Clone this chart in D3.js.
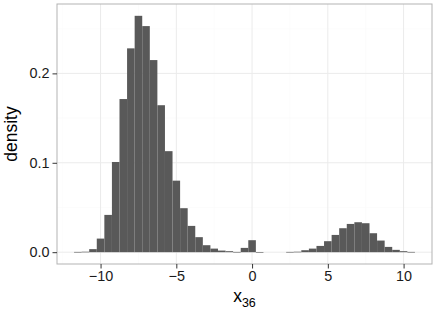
<!DOCTYPE html>
<html>
<head>
<meta charset="utf-8">
<script src="https://cdn.jsdelivr.net/npm/d3@7"></script>
<style>
  body { margin: 0; background: #fff; }
  svg text { font-family: "Liberation Sans", Arial, sans-serif; }
</style>
</head>
<body>
<div id="chart"></div>
<script>
// histogram bins (centre of each 0.5 wide bin) and densities
var binCenters = [-11.5, -11, -10.5, -10, -9.5, -9, -8.5, -8, -7.5, -7, -6.5, -6, -5.5, -5, -4.5, -4, -3.5, -3, -2.5, -2, -1.5, -1, -0.5, 0, 0.5,
  2.5, 3, 3.5, 4, 4.5, 5, 5.5, 6, 6.5, 7, 7.5, 8, 8.5, 9, 9.5, 10, 10.5];
var density = [0.0003, 0.0005, 0.0034, 0.0152, 0.0417, 0.1009, 0.1713, 0.228, 0.2644, 0.2529, 0.2149, 0.1644, 0.113, 0.080, 0.0492, 0.0294, 0.0168, 0.0078, 0.0040, 0.0018, 0.0011, 0.0003, 0.0048, 0.0134, 0.0002,
  0.0003, 0.0005, 0.0022, 0.0040, 0.0070, 0.0123, 0.0193, 0.0268, 0.0316, 0.0335, 0.0324, 0.0212, 0.0130, 0.0059, 0.0026, 0.0011, 0.0003];
var binWidth = 0.5;
var xTicks = [-10, -5, 0, 5, 10];
var xMinor = [-12.5, -7.5, -2.5, 2.5, 7.5];
var yTicks = [0, 0.1, 0.2];
var yMinor = [0.05, 0.15, 0.25];

var W = 436, H = 311;
var margin = { top: 4, right: 4, bottom: 47, left: 57 };
var width = W - margin.left - margin.right;
var height = H - margin.top - margin.bottom;

var svg = d3.select("#chart").append("svg")
  .attr("width", W)
  .attr("height", H);

var g = svg.append("g")
  .attr("transform", "translate(" + margin.left + "," + margin.top + ")");

// ggplot style 5% expansion
var xLo = -11.75, xHi = 10.75;
var xPad = (xHi - xLo) * 0.05;
var x = d3.scaleLinear().domain([xLo - xPad, xHi + xPad]).range([0, width]);
var yMax = d3.max(density);
var y = d3.scaleLinear().domain([-yMax * 0.05, yMax * 1.05]).range([height, 0]);

// grid
g.selectAll(".xminor").data(xMinor).enter().append("line")
  .attr("x1", function (d) { return x(d); }).attr("x2", function (d) { return x(d); })
  .attr("y1", 0).attr("y2", height)
  .attr("stroke", "#fafafa").attr("stroke-width", 0.6);
g.selectAll(".yminor").data(yMinor).enter().append("line")
  .attr("y1", function (d) { return y(d); }).attr("y2", function (d) { return y(d); })
  .attr("x1", 0).attr("x2", width)
  .attr("stroke", "#fafafa").attr("stroke-width", 0.6);
g.selectAll(".xmajor").data(xTicks).enter().append("line")
  .attr("x1", function (d) { return x(d); }).attr("x2", function (d) { return x(d); })
  .attr("y1", 0).attr("y2", height)
  .attr("stroke", "#ebebeb").attr("stroke-width", 1);
g.selectAll(".ymajor").data(yTicks).enter().append("line")
  .attr("y1", function (d) { return y(d); }).attr("y2", function (d) { return y(d); })
  .attr("x1", 0).attr("x2", width)
  .attr("stroke", "#ebebeb").attr("stroke-width", 1);

// bars
g.selectAll(".bar").data(binCenters).enter().append("rect")
  .attr("x", function (d) { return x(d - binWidth / 2); })
  .attr("width", function (d) { return x(d + binWidth / 2) - x(d - binWidth / 2); })
  .attr("y", function (d, i) { return y(density[i]); })
  .attr("height", function (d, i) { return Math.max(0.6, y(0) - y(density[i])); })
  .attr("fill", "#595959");

// panel border
g.append("rect")
  .attr("x", 0).attr("y", 0).attr("width", width).attr("height", height)
  .attr("fill", "none").attr("stroke", "#b3b3b3").attr("stroke-width", 1);

// axes
var xAxis = g.append("g")
  .attr("transform", "translate(0," + height + ")")
  .call(d3.axisBottom(x).tickValues(xTicks).tickSize(4.5).tickPadding(2.5)
    .tickFormat(function (d) { return d < 0 ? "\u2212" + Math.abs(d) : d; }));
var yAxis = g.append("g")
  .call(d3.axisLeft(y).tickValues(yTicks).tickSize(4.5).tickPadding(3)
    .tickFormat(d3.format(".1f")));

[xAxis, yAxis].forEach(function (a) {
  a.select(".domain").remove();
  a.selectAll(".tick line").attr("stroke", "#333");
  a.selectAll(".tick text").attr("fill", "#1a1a1a").style("font-size", "14.4px");
});

// axis titles
svg.append("text")
  .attr("x", margin.left + width / 2)
  .attr("y", 302)
  .attr("text-anchor", "middle")
  .style("font-size", "17.5px")
  .attr("fill", "#000")
  .text("x")
  .append("tspan")
  .attr("dy", 5)
  .style("font-size", "12.5px")
  .text("36");

svg.append("text")
  .attr("transform", "translate(17," + (margin.top + height / 2) + ") rotate(-90)")
  .attr("text-anchor", "middle")
  .style("font-size", "17.5px")
  .attr("fill", "#000")
  .text("density");
</script>
</body>
</html>
